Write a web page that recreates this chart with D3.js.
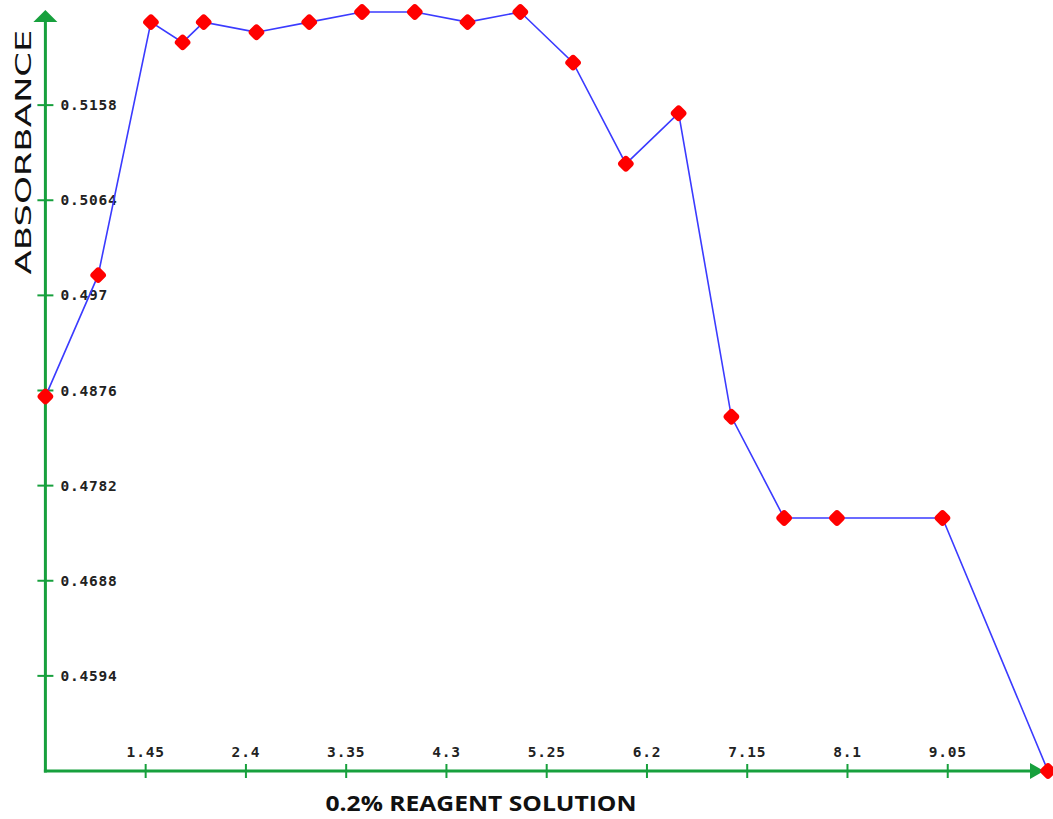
<!DOCTYPE html>
<html>
<head>
<meta charset="utf-8">
<script src="https://cdn.jsdelivr.net/npm/d3@7"></script>
<style>
  body { margin: 0; background: #fff; }
</style>
</head>
<body>
<div id="chart"></div>
<script>
// data
const reagent = [0.5, 1.0, 1.5, 1.8, 2.0, 2.5, 3.0, 3.5, 4.0, 4.5, 5.0, 5.5, 6.0, 6.5, 7.0, 7.5, 8.0, 9.0, 10.0];
const absorbance = [0.487, 0.499, 0.524, 0.522, 0.524, 0.523, 0.524, 0.525, 0.525, 0.524, 0.525, 0.520, 0.510, 0.515, 0.485, 0.475, 0.475, 0.475, 0.450];
const xTicks = [1.45, 2.4, 3.35, 4.3, 5.25, 6.2, 7.15, 8.1, 9.05];
const yTicks = [0.4594, 0.4688, 0.4782, 0.4876, 0.497, 0.5064, 0.5158];

const width = 1053;
const height = 819;
const axisColor = '#17a03d';

const svg = d3
    .select('#chart')
    .append('svg')
    .attr('width', width)
    .attr('height', height);

const x = d3.scaleLinear().domain([0.5, 10]).range([45.4, 1048]);
const y = d3.scaleLinear().domain([0.45, 0.5252]).range([771, 10]);

// axes lines
svg.append('line')
    .attr('x1', x(0.5)).attr('x2', x(0.5))
    .attr('y1', y(0.45) + 1.5).attr('y2', 20)
    .attr('stroke', axisColor).attr('stroke-width', 3);
svg.append('line')
    .attr('x1', x(0.5) - 1.5).attr('x2', 1032)
    .attr('y1', y(0.45)).attr('y2', y(0.45))
    .attr('stroke', axisColor).attr('stroke-width', 3);

// arrow heads
svg.append('path')
    .attr('d', `M${x(0.5)},10 L${x(0.5) + 12},22 L${x(0.5) - 12},22 Z`)
    .attr('fill', axisColor);
svg.append('path')
    .attr('d', `M1044,${y(0.45)} L1030,${y(0.45) - 8} L1030,${y(0.45) + 8} Z`)
    .attr('fill', axisColor);

// y ticks
const yTickG = svg.selectAll('.ytick')
    .data(yTicks)
    .enter()
    .append('g')
    .attr('class', 'ytick')
    .attr('transform', (d) => `translate(${x(0.5)},${y(d)})`);
yTickG.append('line')
    .attr('x1', -8).attr('x2', 8)
    .attr('stroke', axisColor).attr('stroke-width', 2);
yTickG.append('text')
    .attr('x', 15)
    .attr('dy', '0.35em')
    .style('font-family', 'DejaVu Sans Mono, monospace')
    .style('font-size', '14.5px')
    .style('font-weight', 'bold')
    .style('letter-spacing', '0.8px')
    .attr('fill', '#222')
    .text((d) => d);

// x ticks
const xTickG = svg.selectAll('.xtick')
    .data(xTicks)
    .enter()
    .append('g')
    .attr('class', 'xtick')
    .attr('transform', (d) => `translate(${x(d)},${y(0.45)})`);
xTickG.append('line')
    .attr('y1', -7).attr('y2', 7)
    .attr('stroke', axisColor).attr('stroke-width', 2);
xTickG.append('text')
    .attr('y', -14)
    .attr('text-anchor', 'middle')
    .style('font-family', 'DejaVu Sans Mono, monospace')
    .style('font-size', '14.5px')
    .style('font-weight', 'bold')
    .style('letter-spacing', '0.8px')
    .attr('fill', '#222')
    .text((d) => d);

// axis titles
svg.append('text')
    .attr('transform', 'translate(31,152) rotate(-90)')
    .attr('text-anchor', 'middle')
    .attr('textLength', 245)
    .attr('lengthAdjust', 'spacingAndGlyphs')
    .style('font-family', 'DejaVu Sans, sans-serif')
    .style('font-size', '21px')
    .attr('fill', '#111')
    .text('ABSORBANCE');

svg.append('text')
    .attr('x', 481)
    .attr('y', 811)
    .attr('text-anchor', 'middle')
    .attr('textLength', 311)
    .attr('lengthAdjust', 'spacingAndGlyphs')
    .style('font-family', 'Open Sans, sans-serif')
    .style('font-size', '22px')
    .style('font-weight', 'bold')
    .attr('fill', '#111')
    .text('0.2% REAGENT SOLUTION');

// line
const points = reagent.map((r, i) => [r, absorbance[i]]);
const line = d3.line()
    .x((d) => x(d[0]))
    .y((d) => y(d[1]));

svg.append('path')
    .datum(points)
    .attr('d', line)
    .attr('fill', 'none')
    .attr('stroke', '#3b3bff')
    .attr('stroke-width', 1.6);

// markers
svg.selectAll('.marker')
    .data(points)
    .enter()
    .append('rect')
    .attr('class', 'marker')
    .attr('x', -6.5).attr('y', -6.5)
    .attr('width', 13).attr('height', 13)
    .attr('rx', 3.5)
    .attr('fill', '#ff0000')
    .attr('transform', (d) => `translate(${x(d[0])},${y(d[1])}) rotate(45)`);
</script>
</body>
</html>
